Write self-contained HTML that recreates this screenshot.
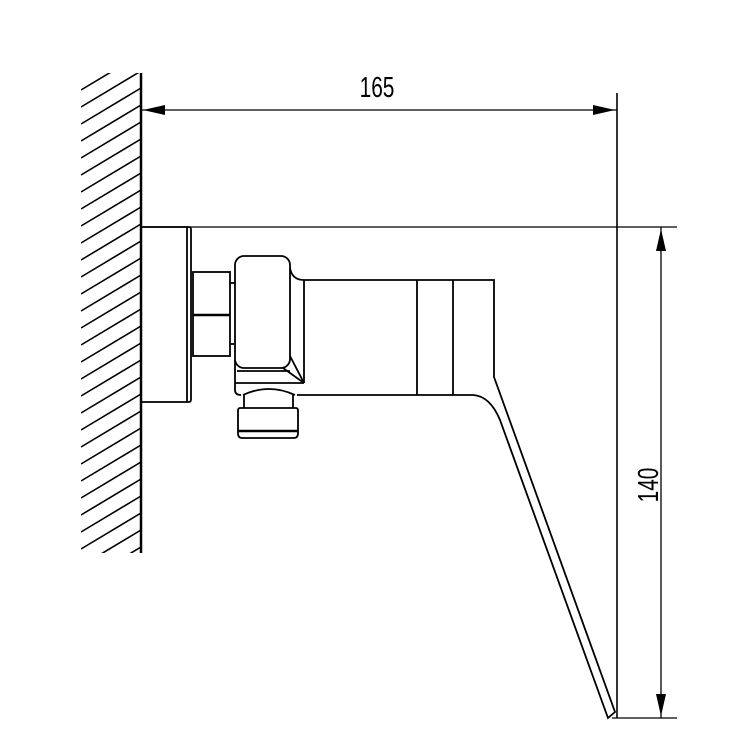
<!DOCTYPE html>
<html><head><style>body{margin:0;background:#fff}svg{display:block}</style></head><body>
<svg width="750" height="750" viewBox="0 0 750 750" xmlns="http://www.w3.org/2000/svg">
<defs><clipPath id="c"><rect x="81" y="73" width="60" height="480"/></clipPath></defs>
<g clip-path="url(#c)" stroke="#000" stroke-width="1.6" fill="none">
<path d="M81,90 L141,54 M81,107 L141,71 M81,124 L141,88 M81,141 L141,105 M81,158 L141,122 M81,175 L141,139 M81,192 L141,156 M81,209 L141,173 M81,226 L141,190 M81,243 L141,207 M81,260 L141,224 M81,277 L141,241 M81,294 L141,258 M81,311 L141,275 M81,328 L141,292 M81,345 L141,309 M81,362 L141,326 M81,379 L141,343 M81,396 L141,360 M81,413 L141,377 M81,430 L141,394 M81,447 L141,411 M81,464 L141,428 M81,481 L141,445 M81,498 L141,462 M81,515 L141,479 M81,532 L141,496 M81,549 L141,513 M81,566 L141,530 M81,583 L141,547 M81,600 L141,564"/>
</g>
<g stroke="#000" fill="none">
<line x1="141" y1="73" x2="141" y2="553" stroke-width="2.5"/>
<line x1="141" y1="110" x2="617" y2="110" stroke-width="1.3"/>
<polygon points="143,110 165,105 165,115" fill="#000" stroke="none"/>
<polygon points="615,110 593,105 593,115" fill="#000" stroke="none"/>
<line x1="617" y1="93" x2="617" y2="718" stroke-width="1.6"/>
<line x1="141" y1="227" x2="677" y2="227" stroke-width="1.3"/>
<line x1="612" y1="718" x2="677" y2="718" stroke-width="1.3"/>
<line x1="661" y1="227" x2="661" y2="718" stroke-width="1.3"/>
<polygon points="661,229 656,251 666,251" fill="#000" stroke="none"/>
<polygon points="661,716 656,694 666,694" fill="#000" stroke="none"/>
<g stroke-width="1.8">
<path d="M141,227 H189 Q191,227 191,230 V399 Q191,402 189,402 H141"/>
<line x1="187" y1="227" x2="187" y2="402"/>
<rect x="193" y="272" width="37" height="84"/>
<line x1="193" y1="315" x2="230" y2="315" stroke-width="2.4"/>
<line x1="230" y1="283" x2="235" y2="283"/>
<line x1="230" y1="344" x2="235" y2="344"/>
<rect x="235" y="256" width="55" height="112" rx="9"/>
<path d="M290,268 Q292,280 304,280 H494 V377 L615,712 L608,718 L500,420 Q490,396 473,395 H297"/>
<line x1="304" y1="280" x2="304" y2="383"/>
<path d="M283,368 L304,383 M290,356 L304,383"/>
<line x1="237" y1="371" x2="290" y2="371"/>
<line x1="235" y1="383" x2="304" y2="383"/>
<path d="M235,360 V390 Q235,395 241,395"/>
<path d="M243,395 Q269,383 295,395"/>
<line x1="244" y1="395" x2="244" y2="408"/>
<line x1="293" y1="395" x2="293" y2="408"/>
<path d="M240,408 H296 Q298,408 298,411 V433 Q298,438 294,438 H242 Q238,438 238,433 V411 Q238,408 240,408 Z"/>
<line x1="238" y1="431" x2="298" y2="431" stroke-width="2.6"/>
<line x1="417" y1="280" x2="417" y2="395"/>
<line x1="453" y1="280" x2="453" y2="395"/>
</g>
</g>
<text x="0" y="0" font-family="Liberation Sans, sans-serif" font-size="29" text-anchor="middle" transform="translate(377,97) scale(0.72,1)">165</text>
<text x="0" y="0" font-family="Liberation Sans, sans-serif" font-size="29" text-anchor="middle" transform="translate(658,485) rotate(-90) scale(0.72,1)">140</text>
</svg>
</body></html>
